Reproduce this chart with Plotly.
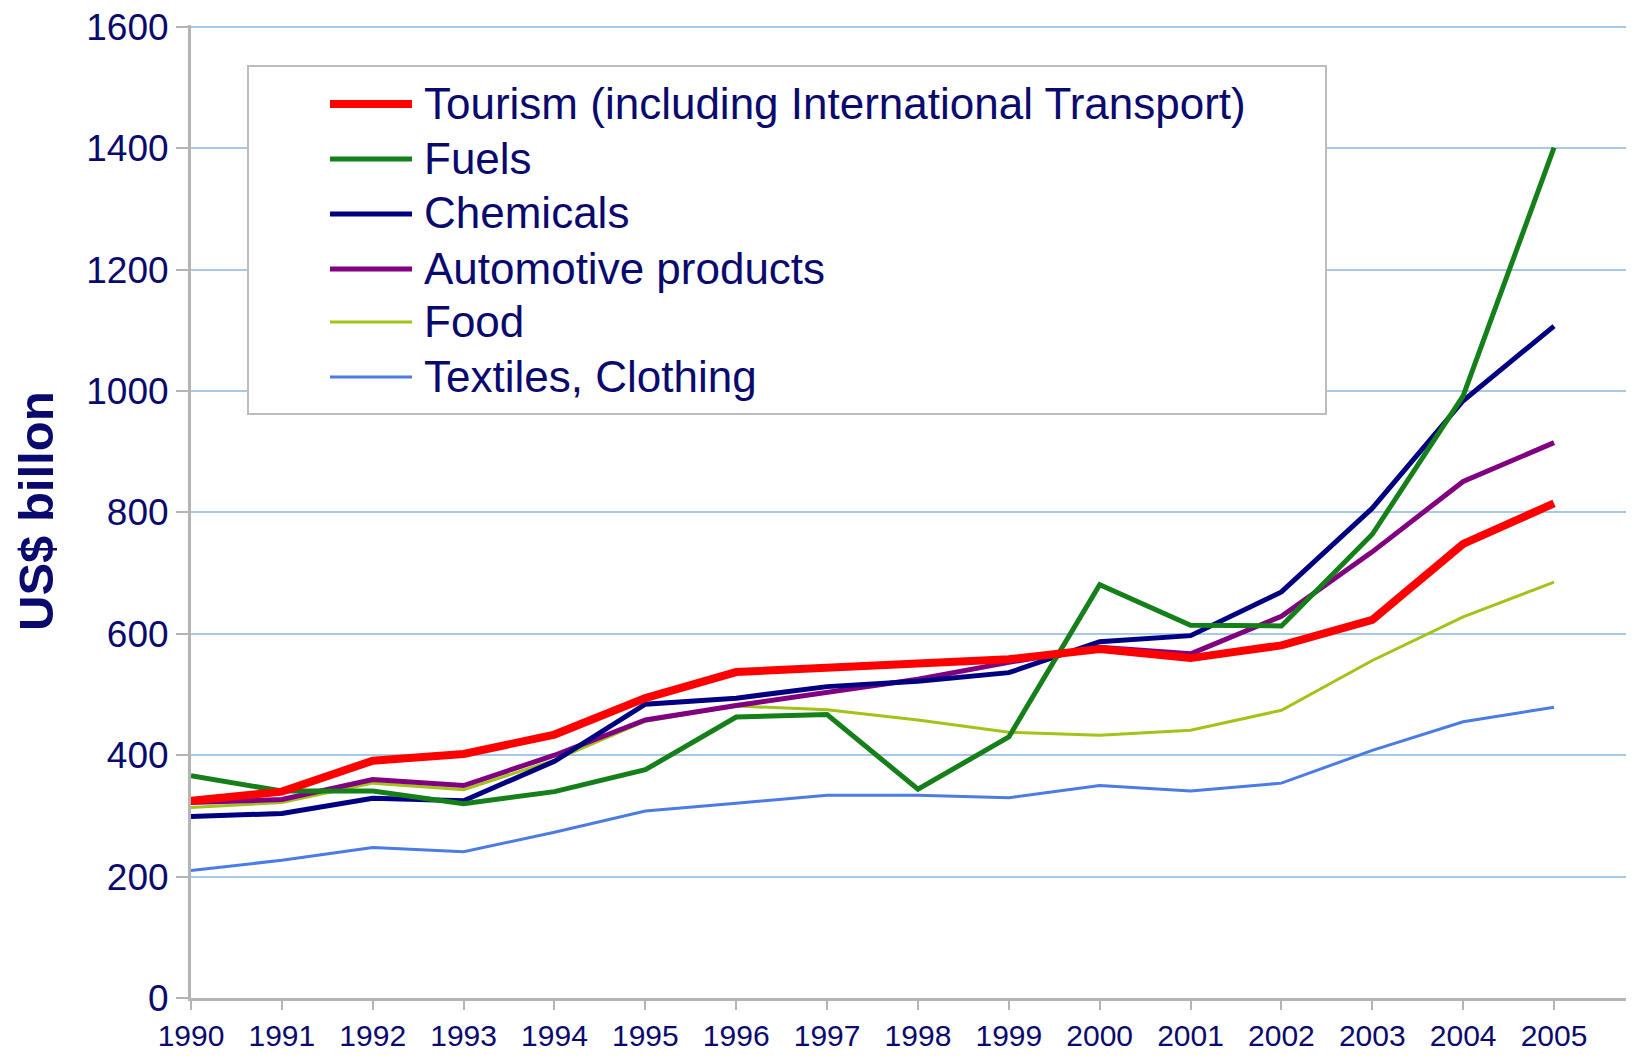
import plotly.graph_objects as go

years = list(range(1990, 2006))
series_names = [
    "Tourism (including International Transport)",
    "Fuels",
    "Chemicals",
    "Automotive products",
    "Food",
    "Textiles, Clothing",
]
tourism = [325, 340, 391, 402, 434, 494, 537, 543, 549, 558, 575, 560, 581, 623, 748, 815]
fuels = [366, 341, 341, 320, 340, 376, 463, 467, 344, 430, 681, 614, 613, 764, 992, 1401]
chemicals = [299, 304, 329, 325, 390, 484, 494, 513, 522, 536, 587, 597, 669, 807, 984, 1107]
automotive = [322, 327, 360, 350, 400, 458, 482, 503, 525, 553, 578, 567, 629, 735, 851, 915]
food = [314, 322, 354, 343, 392, 456, 481, 475, 458, 438, 433, 441, 474, 556, 628, 685]
textiles = [210, 227, 248, 241, 273, 308, 321, 334, 334, 330, 350, 341, 354, 408, 455, 479]
y_ticks = [0, 200, 400, 600, 800, 1000, 1200, 1400, 1600]

series_values = [tourism, fuels, chemicals, automotive, food, textiles]
colors = ["#FF0000", "#15801A", "#000080", "#800080", "#A2C318", "#4B7BE5"]
widths = [8, 5, 5, 5, 3, 3]
text_color = "#0A0A6E"

# page body has an 8px margin; figure is sized so the plot reaches the window edge
OFF = 8
W, H = 1634 - OFF, 1063 - OFF
L, R, T, B = 191 - OFF, 0, 25 - OFF, 65
pw, ph = W - L - R, H - T - B


def px(x):
    return (x - OFF - L) / pw


def py(y):
    return (H - B - (y - OFF)) / ph


fig = go.Figure()
order = [5, 4, 3, 2, 1, 0]
for i in order:
    fig.add_trace(go.Scatter(
        x=years, y=series_values[i], mode="lines", name=series_names[i],
        line=dict(color=colors[i], width=widths[i]), showlegend=False,
        cliponaxis=False,
    ))

shapes = []
annotations = []
shapes.append(dict(type="rect", xref="paper", yref="paper",
                   x0=px(248), x1=px(1326), y0=py(414), y1=py(66),
                   fillcolor="white", line=dict(color="#BDBDBD", width=2), layer="above"))
leg_y = [104, 159, 214, 269, 322, 377]
for i, name in enumerate(series_names):
    shapes.append(dict(type="line", xref="paper", yref="paper",
                       x0=px(330), x1=px(412), y0=py(leg_y[i]), y1=py(leg_y[i]),
                       line=dict(color=colors[i], width=widths[i]), layer="above"))
    annotations.append(dict(xref="paper", yref="paper", x=px(422), y=py(leg_y[i] - 1),
                            xanchor="left", yanchor="middle", showarrow=False,
                            text=name, font=dict(size=44, color=text_color,
                                                 family="Liberation Sans, Arial, sans-serif")))

annotations.append(dict(xref="paper", yref="paper", x=px(36), y=py(511),
                        xanchor="center", yanchor="middle", showarrow=False, textangle=-90,
                        text="<b>US$ billon</b>",
                        font=dict(size=49, color=text_color, family="Liberation Sans, Arial, sans-serif")))

fig.update_layout(
    width=W, height=H,
    margin=dict(l=L, r=R, t=T, b=B),
    paper_bgcolor="white", plot_bgcolor="white",
    shapes=shapes, annotations=annotations,
    xaxis=dict(
        range=[1990, 2005.88], tickmode="array", tickvals=years, ticktext=[str(y) for y in years],
        showgrid=False, zeroline=False, showline=True, linecolor="#B4B4B4", linewidth=3,
        ticks="outside", ticklen=9, tickwidth=2, tickcolor="#B4B4B4",
        ticklabeloverflow="allow",
        tickfont=dict(size=30, color=text_color, family="Liberation Sans, Arial"),
    ),
    yaxis=dict(
        range=[0, 1603], tickmode="array", tickvals=y_ticks,
        showgrid=True, gridcolor="#A8C8E8", gridwidth=2, zeroline=False,
        showline=True, linecolor="#B4B4B4", linewidth=3,
        ticks="outside", ticklen=12, tickwidth=2, tickcolor="#B4B4B4",
        ticklabeloverflow="allow",
        tickfont=dict(size=37, color=text_color, family="Liberation Sans, Arial"),
    ),
)

fig.write_html("out.html")
